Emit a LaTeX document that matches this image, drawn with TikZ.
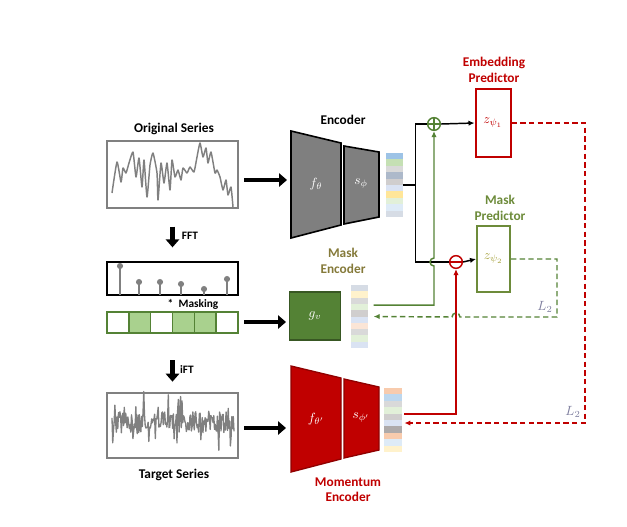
\documentclass[tikz,border=0pt]{standalone}
\usepackage{fontspec}
\setmainfont{Carlito}
\usetikzlibrary{arrows.meta,positioning}

\definecolor{encgray}{HTML}{7F7F7F}
\definecolor{encred}{HTML}{C00000}
\definecolor{darkred}{HTML}{900000}
\definecolor{maskgreen}{HTML}{548235}
\definecolor{lightgreen}{HTML}{A9D18E}
\definecolor{labolive}{HTML}{857A3A}
\definecolor{labgreen}{HTML}{6D8B3A}
\definecolor{zolive}{HTML}{A5A03A}
\definecolor{lossgray}{HTML}{7F7F9F}
\definecolor{sig}{HTML}{808080}

\tikzset{
  lab/.style={font=\bfseries\fontsize{10}{11.5}\selectfont, align=center, inner sep=0pt},
  smalllab/.style={font=\bfseries\fontsize{8.5}{9.5}\selectfont, inner sep=0pt},
  mathlab/.style={font=\fontsize{10}{11}\selectfont, inner sep=0pt},
  seriesbox/.style={draw=sig, line width=1pt, minimum width=98.25pt, inner sep=0pt},
  cell/.style={draw=maskgreen, line width=1.1pt, minimum width=16.375pt, minimum height=15.75pt, inner sep=0pt},
  vec/.style={inner sep=0pt, minimum width=12.75pt},
  bigarrow/.style={line width=3.6pt, -{Triangle[length=6pt,width=10pt]}},
  grayenc/.style={fill=encgray, draw=black, line width=1.2pt, line join=miter},
  redenc/.style={fill=encred, draw=darkred, line width=1pt, line join=miter},
  blk/.style={line width=1.1pt},
  gline/.style={draw=maskgreen, line width=1.1pt},
  rline/.style={draw=encred, line width=1.1pt},
  tip/.style={-{Latex[length=4.5pt,width=4pt]}},
  op/.style={circle, line width=1.1pt, minimum size=9.5pt, inner sep=0pt},
}

\begin{document}
\begin{tikzpicture}[x=0.75pt, y=-0.75pt]
    \useasboundingbox (0,0) rectangle (627,526);

    % input side
    \node[lab] (origlab) at (174,129) {Original Series};
    \node[seriesbox, minimum height=50.25pt] (orig) at (172.5,174.5) {};
    \draw[sig, line width=1.1pt, line join=round] plot[smooth, tension=0.3] coordinates {
        (112,193) (117,162) (121,182) (123,168) (126,173) (129,163) (133,152)
        (136,177) (139,158) (142,187) (144,160) (147,197) (150,165) (153,153)
        (157,173) (158,200) (161,163) (164,183) (167,163) (170,190) (172,160)
        (175,177) (178,170) (181,180) (183,168) (187,173) (190,167) (194,172)
        (197,157) (200,143) (203,157) (206,148) (208,163) (211,152) (215,173)
        (217,170) (220,177) (223,190) (226,180) (228,195) (231,187) (233,207)};

    \coordinate (fftstart) at ([yshift=-13.5pt]orig.south);
    \node[draw=black, line width=1pt, minimum width=98.25pt, minimum height=24.75pt, inner sep=0pt] (spec) at (172.5,278.5) {};
    \coordinate (fftend) at ([yshift=10.5pt]spec.north);
    \draw[bigarrow] (fftstart) -- (fftend);
    \node[smalllab] (fftlab) at (190,236) {FFT};
    \foreach \x/\y in {120/266,139/282,160/282,181/284,204/289,227/279} {
        \draw[sig, line width=1.1pt] (\x,295) -- (\x,\y);
        \fill[sig] (\x,\y) circle (2.3pt);
    }
    \node[smalllab] (masklab) at (193,304) {*\hspace{4pt}Masking};
    \foreach \i/\f in {1/white,2/lightgreen,3/white,4/lightgreen,5/lightgreen,6/white}
        \node[cell, fill=\f] (m\i) at ({107+21.833*(\i-0.5)},322.5) {};

    \coordinate (iftstart) at ([yshift=-20pt]m1.south -| orig.south);
    \node[seriesbox, minimum height=48.75pt] (target) at (172.5,425.5) {};
    \coordinate (iftend) at ([yshift=8pt]target.north);
    \draw[bigarrow] (iftstart) -- (iftend);
    \node[smalllab] (iftlab) at (187,370) {iFT};
    \pgfmathsetseed{2025}
    \draw[sig, line width=1pt, line join=round] plot[domain=112:234, samples=170] (\x, {422 + 11*rand + 24*(rand)^5});
    \node[lab] (targetlab) at (174,475) {Target Series};

    % encoder
    \node[lab] (enclab) at (343,120) {Encoder};
    \draw[grayenc] (291,131) -- (341,143) -- (341,225) -- (291,238) -- cycle;
    \draw[grayenc] (344,146) -- (379,152) -- (379,217) -- (344,224) -- cycle;
    \node[mathlab, white] (fth) at (316,184) {$f_\theta$};
    \node[mathlab, white] (sph) at (361,184) {$s_\phi$};
    \node[vec, minimum height=48pt] (evec) at (394.5,185) {};
    \foreach \c [count=\i] in {9DC3E6,C5E0B4,D9D9D9,ADB9CA,D0CECE,DAE3F3,FFE699,E2F0D9,DEEBF7,D6DCE5} {
        \definecolor{stripe}{HTML}{\c}
        \fill[stripe] (386,{153+(\i-1)*6.4}) rectangle (403,{153+\i*6.4});
    }
    \coordinate (encin) at (287,180);
    \draw[bigarrow] ([xshift=4pt]orig.east |- encin) -- (encin);

    % mask encoder
    \node[lab, labolive] (menclab) at (343,261) {Mask\\Encoder};
    \node[draw={rgb,255:red,56;green,87;blue,35}, fill=maskgreen, line width=1.1pt, minimum width=38.25pt, minimum height=36pt, inner sep=0pt] (menc) at (315,316) {};
    \node[mathlab, white] (gv) at (menc) {$g_v$};
    \node[vec, minimum height=47.25pt] (mvec) at (359.5,316.5) {};
    \foreach \c [count=\i] in {D6DCE5,FFF2CC,D9D9D9,E2F0D9,D0CECE,DAE3F3,FBE5D6,D9D9D9,E2F0D9,DAE3F3} {
        \definecolor{stripe}{HTML}{\c}
        \fill[stripe] (351,{285+(\i-1)*6.3}) rectangle (368,{285+\i*6.3});
    }
    \coordinate (mencin) at (286,322);
    \draw[bigarrow] ([xshift=4pt]m6.east |- mencin) -- (mencin);

    % momentum encoder
    \draw[redenc] (291,366) -- (341,378) -- (341,459) -- (291,472) -- cycle;
    \draw[redenc] (344,379) -- (379,387) -- (379,450) -- (344,458) -- cycle;
    \node[mathlab, white] (fthm) at (316,419) {$f_{\theta'}$};
    \node[mathlab, white] (sphm) at (361,418) {$s_{\phi'}$};
    \node[vec, minimum height=48pt] (tvec) at (393,420) {};
    \foreach \c [count=\i] in {F8CBAD,BDD7EE,D9D9D9,E2F0D9,D0CECE,DAE3F3,AEAAAA,F8CBAD,DEEBF7,FFF2CC} {
        \definecolor{stripe}{HTML}{\c}
        \fill[stripe] (384,{388+(\i-1)*6.4}) rectangle (402,{388+\i*6.4});
    }
    \coordinate (momin) at (286,428);
    \draw[bigarrow] ([xshift=4pt]target.east |- momin) -- (momin);
    \node[lab, encred] (momlab) at (348,490) {Momentum\\Encoder};

    % predictors
    \node[lab, encred] (eplab) at (494,70) {Embedding\\Predictor};
    \node[draw=encred, line width=1.5pt, minimum width=26.25pt, minimum height=51pt, inner sep=0pt,
          mathlab, text=encred] (ep) at (493,123) {$z_{\psi_1}$};
    \node[lab, labgreen] (mplab) at (500,208) {Mask\\Predictor};
    \node[draw=labgreen, line width=1.5pt, minimum width=24.75pt, minimum height=49.5pt, inner sep=0pt,
          mathlab, text=zolive] (mp) at (493.5,259) {$z_{\psi_2}$};

    % combine
    \node[op, draw=maskgreen, path picture={
        \draw[maskgreen, line width=1.1pt] (path picture bounding box.north) -- (path picture bounding box.south)
              (path picture bounding box.west) -- (path picture bounding box.east);}] (plus) at (434,124) {};
    \node[op, draw=encred, path picture={
        \draw[encred, line width=1.1pt] (path picture bounding box.west) -- (path picture bounding box.east);}] (minus) at (456,262) {};

    \coordinate (split) at ([xshift=9pt]evec.east);
    \draw[blk] (evec.east) -- (split);
    \draw[blk] (plus.west) -| (split) |- (minus.west);
    \draw[blk, tip] (plus.east) -- (ep.west);
    \draw[blk, tip] (minus.east) -- (mp.west);

    % mask branch
    \coordinate (gout) at ([xshift=4pt,yshift=8.6pt]mvec.east);
    \draw[gline, tip] (gout) -| ([yshift=-3pt]plus |- minus) arc (270:90:3pt) -- (plus.south);

    % momentum branch
    \coordinate (rout) at ([xshift=2pt,yshift=4.5pt]tvec.east);
    \draw[rline, tip] (rout) -| (minus.south);

    % losses
    \coordinate (gcorner) at (557,317);
    \coordinate (gend) at ([xshift=4pt]mvec.east);
    \draw[gline, dashed, dash pattern=on 4pt off 2.5pt, tip] (mp.east) -| (gcorner)
        -- ([xshift=3pt]minus |- gcorner) arc (0:180:3pt) -- (gend);
    \node[mathlab, lossgray] (l2a) at (545,307) {$L_2$};

    \coordinate (rcorner) at (585,423);
    \coordinate (rend) at ([xshift=2pt,yshift=-2.25pt]tvec.east);
    \draw[rline, dashed, dash pattern=on 4pt off 2.5pt, tip] (ep.east) -| (rcorner) -- (rend);
    \node[mathlab, lossgray] (l2b) at (573,412) {$L_2$};
\end{tikzpicture}
\end{document}
